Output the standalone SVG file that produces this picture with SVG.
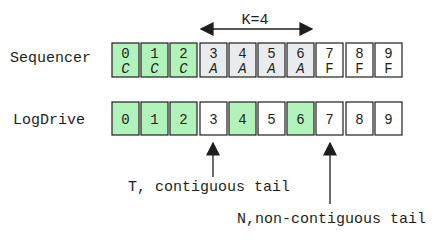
<svg xmlns="http://www.w3.org/2000/svg" width="436" height="240" viewBox="0 0 436 240">
<style>
.t{font-family:"Liberation Mono","DejaVu Sans Mono",monospace;font-size:15px;fill:#1e1e1e}
.d{font-family:"Liberation Mono","DejaVu Sans Mono",monospace;font-size:14px;fill:#1e1e1e;text-anchor:middle}
.i{font-style:italic}
.b{stroke:#1e1e1e;stroke-width:1.2}
.g{fill:#b2f2bb}.a{fill:#e9ecef}.w{fill:#ffffff}
.c{stroke:#1e1e1e;stroke-width:1.3;fill:none}
</style>
<defs>
<marker id="hb" viewBox="0 0 10 10" refX="9" refY="5" markerWidth="14" markerHeight="14" markerUnits="userSpaceOnUse" orient="auto-start-reverse">
<path d="M0,0 L10,5 L0,10 z" fill="#1e1e1e"/>
</marker>
</defs>
<rect width="436" height="240" fill="#ffffff"/>
<g id="labels">
<text class="t" x="10" y="62">Sequencer</text>
<text class="t" x="13" y="124">LogDrive</text>
<text class="t" x="255" y="24" text-anchor="middle">K=4</text>
<text class="t" x="128" y="191">T, contiguous tail</text>
<text class="t" x="237" y="223">N,non-contiguous tail</text>
</g>
<g id="sequencer">
<g id="s0"><rect class="b g" x="112" y="43" width="27" height="34"/><text class="d" x="125.5" y="58">0</text><text class="d i" x="125.5" y="73">C</text></g>
<g id="s1"><rect class="b g" x="141" y="43" width="27" height="34"/><text class="d" x="154.5" y="58">1</text><text class="d i" x="154.5" y="73">C</text></g>
<g id="s2"><rect class="b g" x="170" y="43" width="27" height="34"/><text class="d" x="183.5" y="58">2</text><text class="d i" x="183.5" y="73">C</text></g>
<g id="s3"><rect class="b a" x="200" y="43" width="27" height="34"/><text class="d" x="213.5" y="58">3</text><text class="d i" x="213.5" y="73">A</text></g>
<g id="s4"><rect class="b a" x="229" y="43" width="27" height="34"/><text class="d" x="242.5" y="58">4</text><text class="d i" x="242.5" y="73">A</text></g>
<g id="s5"><rect class="b a" x="258" y="43" width="27" height="34"/><text class="d" x="271.5" y="58">5</text><text class="d i" x="271.5" y="73">A</text></g>
<g id="s6"><rect class="b a" x="287" y="43" width="27" height="34"/><text class="d" x="300.5" y="58">6</text><text class="d i" x="300.5" y="73">A</text></g>
<g id="s7"><rect class="b w" x="316" y="43" width="27" height="34"/><text class="d" x="329.5" y="58">7</text><text class="d" x="329.5" y="73">F</text></g>
<g id="s8"><rect class="b w" x="346" y="43" width="27" height="34"/><text class="d" x="359.5" y="58">8</text><text class="d" x="359.5" y="73">F</text></g>
<g id="s9"><rect class="b w" x="375" y="43" width="27" height="34"/><text class="d" x="388.5" y="58">9</text><text class="d" x="388.5" y="73">F</text></g>
</g>
<g id="logdrive">
<g id="l0"><rect class="b g" x="112" y="102" width="27" height="33"/><text class="d" x="125.5" y="124">0</text></g>
<g id="l1"><rect class="b g" x="141" y="102" width="27" height="33"/><text class="d" x="154.5" y="124">1</text></g>
<g id="l2"><rect class="b g" x="170" y="102" width="27" height="33"/><text class="d" x="183.5" y="124">2</text></g>
<g id="l3"><rect class="b w" x="200" y="102" width="27" height="33"/><text class="d" x="213.5" y="124">3</text></g>
<g id="l4"><rect class="b g" x="229" y="102" width="27" height="33"/><text class="d" x="242.5" y="124">4</text></g>
<g id="l5"><rect class="b w" x="258" y="102" width="27" height="33"/><text class="d" x="271.5" y="124">5</text></g>
<g id="l6"><rect class="b g" x="287" y="102" width="27" height="33"/><text class="d" x="300.5" y="124">6</text></g>
<g id="l7"><rect class="b w" x="316" y="102" width="27" height="33"/><text class="d" x="329.5" y="124">7</text></g>
<g id="l8"><rect class="b w" x="346" y="102" width="27" height="33"/><text class="d" x="359.5" y="124">8</text></g>
<g id="l9"><rect class="b w" x="375" y="102" width="27" height="33"/><text class="d" x="388.5" y="124">9</text></g>
</g>
<g id="connectors">
<line class="c" x1="201" y1="29" x2="312" y2="29" marker-start="url(#hb)" marker-end="url(#hb)"/>
<line class="c" x1="213" y1="177" x2="213" y2="143" marker-end="url(#hb)"/>
<line class="c" x1="330" y1="204" x2="330" y2="143" marker-end="url(#hb)"/>
</g>
</svg>
